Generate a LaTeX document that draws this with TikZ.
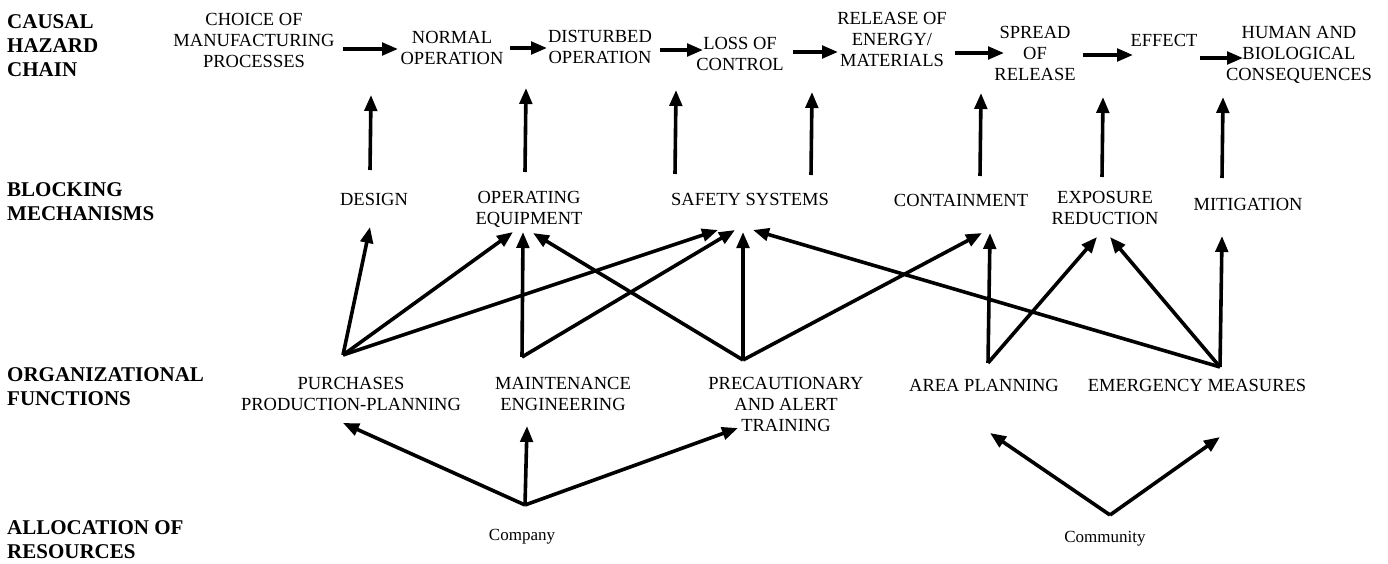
\documentclass[tikz,border=0pt]{standalone}
\usepackage{fontspec}
\setmainfont{Liberation Serif}
\usetikzlibrary{arrows.meta}
\begin{document}
\begin{tikzpicture}[x=1pt,y=-1pt,
  lab/.style={align=center,inner sep=0pt,font=\fontsize{18.5}{21}\selectfont},
  rowlab/.style={align=left,anchor=west,inner sep=0pt,font=\fontsize{21}{24}\selectfont\bfseries},
  small/.style={inner sep=0pt,font=\fontsize{17}{20}\selectfont},
  conn/.style={line width=3.6pt,-{Triangle[length=16pt,width=12.5pt]}}]
\fill[white] (0,0) rectangle (1388,564);
\useasboundingbox (0,0) rectangle (1388,564);
% row labels
\node[rowlab] (L1) at (7,46) {CAUSAL\\HAZARD\\CHAIN};
\node[rowlab] (L2) at (7,202) {BLOCKING\\MECHANISMS};
\node[rowlab] (L3) at (7,387) {ORGANIZATIONAL\\FUNCTIONS};
\node[rowlab] (L4) at (7,540) {ALLOCATION OF\\RESOURCES};
% causal chain
\node[lab] (c1) at (254,40) {CHOICE OF\\MANUFACTURING\\PROCESSES};
\node[lab] (c2) at (452,48) {NORMAL\\OPERATION};
\node[lab] (c3) at (600,47) {DISTURBED\\OPERATION};
\node[lab] (c4) at (740,54) {LOSS OF\\CONTROL};
\node[lab] (c5) at (892,39) {RELEASE OF\\ENERGY/\\MATERIALS};
\node[lab] (c6) at (1035,53) {SPREAD\\OF\\RELEASE};
\node[lab] (c7) at (1164,40) {EFFECT};
\node[lab] (c8) at (1299,55) {HUMAN AND\\BIOLOGICAL\\CONSEQUENCES};
\coordinate (h1a) at (343,49);  \coordinate (h1b) at (398,49);
\coordinate (h2a) at (510,48);  \coordinate (h2b) at (547,48);
\coordinate (h3a) at (660,50);  \coordinate (h3b) at (703,50);
\coordinate (h4a) at (793,52);  \coordinate (h4b) at (838,52);
\coordinate (h5a) at (955,53);  \coordinate (h5b) at (1004,53);
\coordinate (h6a) at (1083,55); \coordinate (h6b) at (1133,55);
\coordinate (h7a) at (1200,58); \coordinate (h7b) at (1243,58);
\foreach \i in {1,...,7} {\draw[conn] (h\i a) -- (h\i b);}
% blocking mechanisms
\node[lab] (b1) at (374,199) {DESIGN};
\node[lab] (b2) at (529,209) {OPERATING\\EQUIPMENT};
\node[lab] (b3) at (750,199) {SAFETY SYSTEMS};
\node[lab] (b4) at (961,200) {CONTAINMENT};
\node[lab] (b5) at (1105,208) {EXPOSURE\\REDUCTION};
\node[lab] (b6) at (1248,204) {MITIGATION};
\coordinate (v1a) at (370,170);  \coordinate (v1b) at (371,95);
\coordinate (v2a) at (525,172);  \coordinate (v2b) at (526,88);
\coordinate (v3a) at (675,174);  \coordinate (v3b) at (676,90);
\coordinate (v4a) at (811,175);  \coordinate (v4b) at (812,92);
\coordinate (v5a) at (980,176);  \coordinate (v5b) at (981,93);
\coordinate (v6a) at (1102,177); \coordinate (v6b) at (1103,97);
\coordinate (v7a) at (1222,178); \coordinate (v7b) at (1223,97);
\foreach \i in {1,...,7} {\draw[conn] (v\i a) -- (v\i b);}
% organizational functions
\node[lab] (o1) at (351,394) {PURCHASES\\PRODUCTION-PLANNING};
\node[lab] (o2) at (563,394) {MAINTENANCE\\ENGINEERING};
\node[lab] (o3) at (786,404) {PRECAUTIONARY\\AND ALERT\\TRAINING};
\node[lab] (o4) at (984,385) {AREA PLANNING};
\node[lab] (o5) at (1197,385) {EMERGENCY MEASURES};
\coordinate (p1) at (343,355);
\coordinate (p2) at (522,357);
\coordinate (p3) at (743,360);
\coordinate (p4) at (988,363);
\coordinate (p5) at (1220,367);
\coordinate (t11) at (370,227);
\coordinate (t12) at (513,232);
\coordinate (t13) at (718,230);
\coordinate (t22) at (523,232);
\coordinate (t23) at (735,230);
\coordinate (t32) at (533,233);
\coordinate (t33) at (743,232);
\coordinate (t34) at (982,233);
\coordinate (t44) at (990,233);
\coordinate (t45) at (1097,237);
\coordinate (t55) at (1110,237);
\coordinate (t53) at (753,230);
\coordinate (t56) at (1222,236);
\draw[conn] (p1) -- (t11);
\draw[conn] (p1) -- (t12);
\draw[conn] (p1) -- (t13);
\draw[conn] (p2) -- (t22);
\draw[conn] (p2) -- (t23);
\draw[conn] (p3) -- (t32);
\draw[conn] (p3) -- (t33);
\draw[conn] (p3) -- (t34);
\draw[conn] (p4) -- (t44);
\draw[conn] (p4) -- (t45);
\draw[conn] (p5) -- (t55);
\draw[conn] (p5) -- (t53);
\draw[conn] (p5) -- (t56);
% allocation of resources
\node[small] (r1) at (522,537) {Company};
\node[small] (r2) at (1105,539) {Community};
\coordinate (q1) at (525,505);
\coordinate (q2) at (1110,515);
\coordinate (u1) at (343,423);
\coordinate (u2) at (527,426);
\coordinate (u3) at (738,428);
\coordinate (u4) at (990,433);
\coordinate (u5) at (1220,437);
\draw[conn] (q1) -- (u1);
\draw[conn] (q1) -- (u2);
\draw[conn] (q1) -- (u3);
\draw[conn] (q2) -- (u4);
\draw[conn] (q2) -- (u5);
\end{tikzpicture}
\end{document}
